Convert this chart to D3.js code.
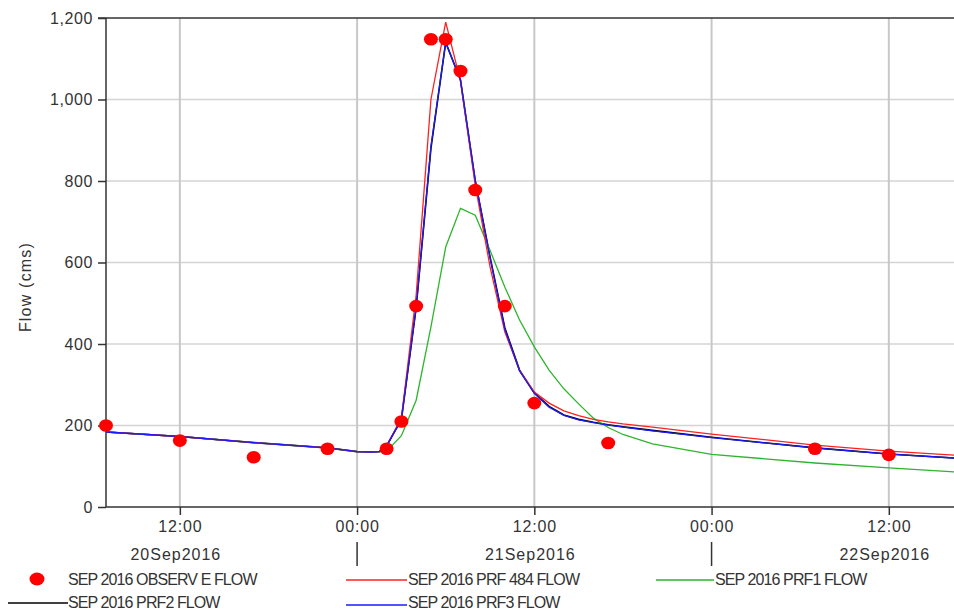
<!DOCTYPE html>
<html>
<head>
<meta charset="utf-8">
<script src="https://cdn.jsdelivr.net/npm/d3@7"></script>
<style>
  body { margin: 0; background: #fff; }
  text { font-family: "Liberation Sans", Arial, sans-serif; fill: #333; }
</style>
</head>
<body>
<script>
// observed flow (cms), hour offsets from 20Sep2016 00:00
var obsHours = [7, 12, 17, 22, 26, 27, 28, 29, 30, 31, 32, 34, 36, 41, 55, 60];
var obsFlow  = [200, 163, 122, 143, 143, 210, 493, 1148, 1148, 1070, 778, 493, 255, 157, 143, 128];

// simulated runs share these time stamps
var simHours = [7, 12, 17, 22, 24, 25, 25.5, 26, 27, 28, 29, 30, 31, 32, 33, 34, 35, 36, 37, 38, 39, 40, 41, 42, 44, 48, 55, 60, 64.5];
var prf484 = [184, 173, 158, 145, 136, 135, 136, 150, 218, 520, 1000, 1190, 1045, 790, 590, 430, 335, 282, 255, 236, 224, 215, 209, 204, 196, 179, 152, 137, 127];
var prf1   = [184, 173, 158, 145, 136, 135, 135, 137, 175, 262, 442, 638, 733, 716, 630, 540, 459, 393, 336, 290, 253, 218, 195, 178, 155, 129, 108, 96, 86];
var prf2   = [184, 173, 158, 145, 136, 135, 136, 150, 215, 490, 880, 1140, 1048, 800, 614, 440, 336, 280, 247, 226, 215, 208, 202, 197, 188, 171, 145, 130, 120];
var prf3   = [184, 173, 158, 145, 136, 135, 136, 150, 215, 490, 885, 1140, 1048, 802, 612, 437, 334, 279, 245, 225, 214, 207, 201, 196, 187, 170, 145, 130, 120];

var yTicks = [0, 200, 400, 600, 800, 1000, 1200];
var timeTickHours = [12, 24, 36, 48, 60];
var dayLabels = ["20Sep2016", "21Sep2016", "22Sep2016"];
var dayLabelHours = [12, 36, 60];
var dayBreakHours = [24, 48];

const drawChart = () => {
  var base = Date.UTC(2016, 8, 20, 0, 0);
  var hr = h => new Date(base + h * 3600000);

  var W = 954, H = 611;
  var mLeft = 106, mTop = 18, mBottom = 507;
  var pxPerHour = 14.77;

  var x = d3.scaleUtc()
    .domain([hr(7), hr(64.5)])
    .range([mLeft, mLeft + 57.5 * pxPerHour]);
  var y = d3.scaleLinear().domain([0, 1200]).range([mBottom, mTop]);

  var svg = d3.select("body").append("svg")
    .attr("width", W).attr("height", H);

  // grid
  svg.append("g").selectAll("line").data(yTicks.slice(1, -1)).join("line")
    .attr("x1", mLeft).attr("x2", W)
    .attr("y1", d => y(d)).attr("y2", d => y(d))
    .attr("stroke", "#d4d4d4").attr("stroke-width", 1.5);
  svg.append("g").selectAll("line").data(timeTickHours).join("line")
    .attr("x1", d => x(hr(d))).attr("x2", d => x(hr(d)))
    .attr("y1", mTop).attr("y2", mBottom)
    .attr("stroke", "#c8c8c8").attr("stroke-width", 2);

  // y axis
  var yAxis = svg.append("g")
    .attr("transform", "translate(" + mLeft + ",0)")
    .call(d3.axisLeft(y).tickValues(yTicks).tickSize(8).tickPadding(5).tickFormat(d3.format(",")));
  yAxis.select(".domain").remove();
  yAxis.selectAll("line").attr("stroke", "#333").attr("stroke-width", 1.5);
  yAxis.selectAll("text").style("font-size", "16px").attr("letter-spacing", "0.6").attr("fill", "#333");

  // x axis
  var xAxis = svg.append("g")
    .attr("transform", "translate(0," + mBottom + ")")
    .call(d3.axisBottom(x).tickValues(timeTickHours.map(hr)).tickSize(8).tickPadding(6)
      .tickFormat(d3.utcFormat("%H:%M")));
  xAxis.select(".domain").remove();
  xAxis.selectAll("line").attr("stroke", "#333").attr("stroke-width", 1.5);
  xAxis.selectAll("text").style("font-size", "16px").attr("letter-spacing", "0.8").attr("fill", "#333");

  // frame
  svg.append("line").attr("x1", mLeft).attr("x2", mLeft).attr("y1", mTop).attr("y2", mBottom)
    .attr("stroke", "#333").attr("stroke-width", 1.5);
  svg.append("line").attr("x1", mLeft).attr("x2", W).attr("y1", mBottom).attr("y2", mBottom)
    .attr("stroke", "#333").attr("stroke-width", 1.5);
  svg.append("line").attr("x1", mLeft - 8).attr("x2", W).attr("y1", mTop).attr("y2", mTop)
    .attr("stroke", "#333").attr("stroke-width", 1.5);

  // date row
  svg.append("g").selectAll("text").data(dayLabels).join("text")
    .attr("x", (d, i) => x(hr(dayLabelHours[i])) - 4)
    .attr("y", 560)
    .attr("text-anchor", "middle")
    .attr("letter-spacing", "1")
    .style("font-size", "16px")
    .text(d => d);
  svg.append("g").selectAll("line").data(dayBreakHours).join("line")
    .attr("x1", d => x(hr(d))).attr("x2", d => x(hr(d)))
    .attr("y1", 542).attr("y2", 566)
    .attr("stroke", "#333").attr("stroke-width", 1.5);

  // y title
  svg.append("text")
    .attr("transform", "translate(31,287) rotate(-90)")
    .attr("text-anchor", "middle")
    .attr("letter-spacing", "1.2")
    .style("font-size", "16px")
    .text("Flow (cms)");

  // lines
  var line = d3.line().x((d, i) => x(hr(simHours[i]))).y(d => y(d));
  var series = [
    { vals: prf2, color: "#000", w: 1.6 },
    { vals: prf1, color: "#2db52d", w: 1.3 },
    { vals: prf484, color: "#ff2020", w: 1.3 },
    { vals: prf3, color: "#1a1aff", w: 1.3 }
  ];
  var plot = svg.append("g");
  series.forEach(s => {
    plot.append("path").datum(s.vals)
      .attr("d", line)
      .attr("fill", "none")
      .attr("stroke", s.color)
      .attr("stroke-width", s.w);
  });

  // observed points
  plot.selectAll("ellipse").data(obsFlow).join("ellipse")
    .attr("cx", (d, i) => x(hr(obsHours[i])))
    .attr("cy", d => y(d))
    .attr("rx", 7).attr("ry", 6.3)
    .attr("fill", "#ff0000");

  // legend
  var leg = svg.append("g").style("font-size", "16px");
  var legText = (tx, ty, t) => {
    leg.append("text").attr("x", tx).attr("y", ty).attr("letter-spacing", "-0.9").text(t);
  };
  var legLine = (x1, x2, ly, c) => {
    leg.append("line").attr("x1", x1).attr("x2", x2).attr("y1", ly).attr("y2", ly)
      .attr("stroke", c).attr("stroke-width", 1.3);
  };
  leg.append("ellipse").attr("cx", 37).attr("cy", 579).attr("rx", 7.5).attr("ry", 6.5).attr("fill", "#ff0000");
  legText(68, 585, "SEP 2016 OBSERV E FLOW");
  legLine(346, 407, 580, "#ff2020");
  legText(408, 585, "SEP 2016 PRF 484 FLOW");
  legLine(656, 714, 580, "#2db52d");
  legText(715, 585, "SEP 2016 PRF1 FLOW");
  legLine(8, 68, 603, "#000");
  legText(68, 608, "SEP 2016 PRF2 FLOW");
  legLine(346, 407, 605, "#1a1aff");
  legText(408, 608, "SEP 2016 PRF3 FLOW");
};

drawChart();
</script>
</body>
</html>
